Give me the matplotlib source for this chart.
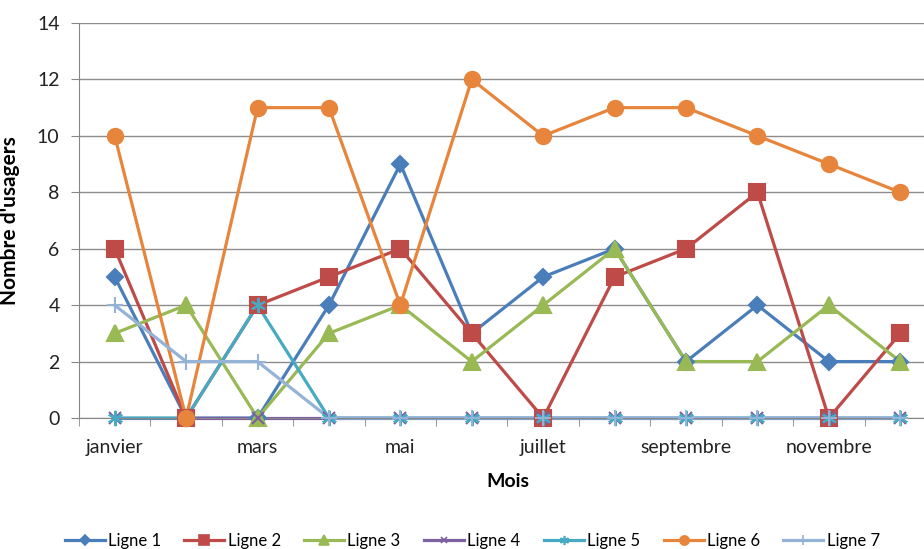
import matplotlib
matplotlib.use("Agg")
import matplotlib.pyplot as plt
from matplotlib.lines import Line2D
import numpy as np

# données
mois = ['janvier', 'février', 'mars', 'avril', 'mai', 'juin', 'juillet',
        'août', 'septembre', 'octobre', 'novembre', 'décembre']
ligne1 = [5, 0, 0, 4, 9, 3, 5, 6, 2, 4, 2, 2]
ligne2 = [6, 0, 4, 5, 6, 3, 0, 5, 6, 8, 0, 3]
ligne3 = [3, 4, 0, 3, 4, 2, 4, 6, 2, 2, 4, 2]
ligne4 = [0, 0, 0, 0, 0, 0, 0, 0, 0, 0, 0, 0]
ligne5 = [0, 0, 4, 0, 0, 0, 0, 0, 0, 0, 0, 0]
ligne6 = [10, 0, 11, 11, 4, 12, 10, 11, 11, 10, 9, 8]
ligne7 = [4, 2, 2, 0, 0, 0, 0, 0, 0, 0, 0, 0]
noms = ['Ligne 1', 'Ligne 2', 'Ligne 3', 'Ligne 4', 'Ligne 5', 'Ligne 6', 'Ligne 7']

series = [ligne1, ligne2, ligne3, ligne4, ligne5, ligne6, ligne7]
couleurs = ['#4A7EBB', '#BE4B48', '#98B954', '#7D60A0', '#46AAC5', '#E8853C', '#95B3D7']
marqueurs = ['D', 's', '^', 'x', (6, 2, 0), 'o', '+']
tailles = [8, 11, 11, 8, 11, 11, 11]

plt.rcParams['font.family'] = ['Lato', 'DejaVu Sans']

fig = plt.figure(figsize=(9.24, 5.49), dpi=100)
ax = fig.add_axes([79 / 924, 131 / 549, 857 / 924, 395 / 549])

x = np.arange(len(mois))
# comme Excel : d'abord toutes les lignes, ensuite tous les marqueurs
for s, c in zip(series, couleurs):
    ax.plot(x, s, color=c, lw=2.3, zorder=2, clip_on=False)
for s, c, m, t in zip(series, couleurs, marqueurs, tailles):
    ax.plot(x, s, ls='none', marker=m, ms=t, mec=c, mfc=c, mew=1.5,
            zorder=3, clip_on=False)

ax.set_xlim(-0.5, 11.5)
ax.set_ylim(0, 14)
ax.set_yticks(range(0, 15, 2))
ax.set_xticks(x[::2])
ax.set_xticklabels(mois[::2])
ax.set_xticks(np.arange(-0.5, 12, 1), minor=True)
ax.tick_params(axis='x', which='major', length=0, pad=15, labelsize=14, labelcolor='#222222')
ax.tick_params(axis='x', which='minor', length=6, color='#868686')
ax.tick_params(axis='y', length=6, color='#868686', pad=8, labelsize=14, labelcolor='#222222')

ax.grid(axis='y', color='#8c8c8c', lw=1)
ax.set_axisbelow(True)
for sp in ['top', 'right']:
    ax.spines[sp].set_visible(False)
for sp in ['left', 'bottom']:
    ax.spines[sp].set_color('#868686')

ax.set_ylabel("Nombre d'usagers", fontsize=15, fontweight='bold')
ax.yaxis.set_label_coords(-0.069, 0.5)
ax.set_xlabel('Mois', fontsize=14, fontweight='bold')
ax.xaxis.set_label_coords(0.5, -0.14)

poignees = [Line2D([], [], color=c, lw=2.3, marker=m, ms=t * 0.6, mec=c, mfc=c, mew=1.2)
            for c, m, t in zip(couleurs, marqueurs, tailles)]
fig.legend(poignees, noms, loc='center', bbox_to_anchor=(0.511, 0.014), ncol=7,
           frameon=False, fontsize=12, handlelength=2.4, columnspacing=1.4,
           handletextpad=0.2)

fig.savefig('out.png', dpi=100)
